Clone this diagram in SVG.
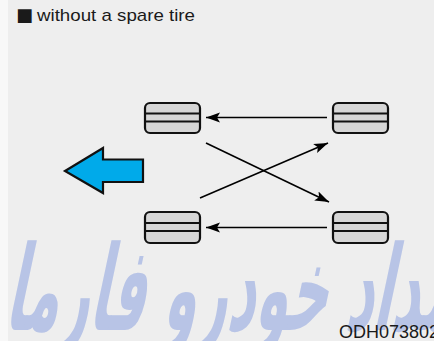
<svg xmlns="http://www.w3.org/2000/svg" width="434" height="341" viewBox="0 0 434 341">
<defs>
<style>
.tire rect{fill:#d6d6d6;stroke:#111;stroke-width:2.2}
.tire line{stroke:#111;stroke-width:2}
.conn line{stroke:#000;stroke-width:1.6;fill:none}
.lbl{font-family:"Liberation Sans",Arial,sans-serif;fill:#1a1a1a}
</style>
<marker id="ah" markerUnits="userSpaceOnUse" markerWidth="16" markerHeight="12" viewBox="0 0 16 12" refX="14" refY="6" orient="auto">
<path d="M0,1 L14,6 L0,11 L3,6 Z" fill="#000"/>
</marker>
</defs>
<rect x="0" y="0" width="434" height="341" fill="#eeeeee"/>
<rect x="0" y="0" width="8" height="341" fill="#f8f8f8"/>
<g id="watermark">
<text x="0" y="0" transform="translate(4,330) skewX(-12)" font-family="DejaVu Sans,sans-serif" font-weight="bold" font-size="118" fill="#b8c4e6" textLength="450" lengthAdjust="spacingAndGlyphs">مداد خودرو فارما</text>
</g>
<g id="title">
<text x="16" y="21" font-family="DejaVu Sans,sans-serif" font-size="18" fill="#1a1a1a">■</text>
<text class="lbl" x="37" y="21" font-size="17" textLength="158" lengthAdjust="spacingAndGlyphs">without a spare tire</text>
</g>
<g id="connectors" class="conn">
<line x1="327" y1="117.5" x2="206" y2="117.5" marker-end="url(#ah)"/>
<line x1="327" y1="227.5" x2="206" y2="227.5" marker-end="url(#ah)"/>
<line x1="206" y1="143" x2="329" y2="202" marker-end="url(#ah)"/>
<line x1="200" y1="198" x2="328" y2="143" marker-end="url(#ah)"/>
</g>
<g id="tire-front-left" class="tire">
<rect x="145" y="103" width="55" height="30" rx="5"/>
<line x1="145" y1="113.5" x2="200" y2="113.5"/>
<line x1="145" y1="121.5" x2="200" y2="121.5"/>
</g>
<g id="tire-front-right" class="tire">
<rect x="333" y="103" width="55" height="30" rx="5"/>
<line x1="333" y1="113.5" x2="388" y2="113.5"/>
<line x1="333" y1="121.5" x2="388" y2="121.5"/>
</g>
<g id="tire-rear-left" class="tire">
<rect x="145" y="212" width="55" height="31" rx="5"/>
<line x1="145" y1="223" x2="200" y2="223"/>
<line x1="145" y1="231" x2="200" y2="231"/>
</g>
<g id="tire-rear-right" class="tire">
<rect x="333" y="212" width="55" height="31" rx="5"/>
<line x1="333" y1="223" x2="388" y2="223"/>
<line x1="333" y1="231" x2="388" y2="231"/>
</g>
<g id="front-arrow">
<path d="M65,171 L103,148 L103,159.5 L143,159.5 L143,182 L103,182 L103,193 Z" fill="#00aaea" stroke="#111" stroke-width="2.2" stroke-linejoin="miter"/>
</g>
<g id="code">
<text class="lbl" x="339" y="338" font-size="18">ODH073802</text>
</g>
</svg>
